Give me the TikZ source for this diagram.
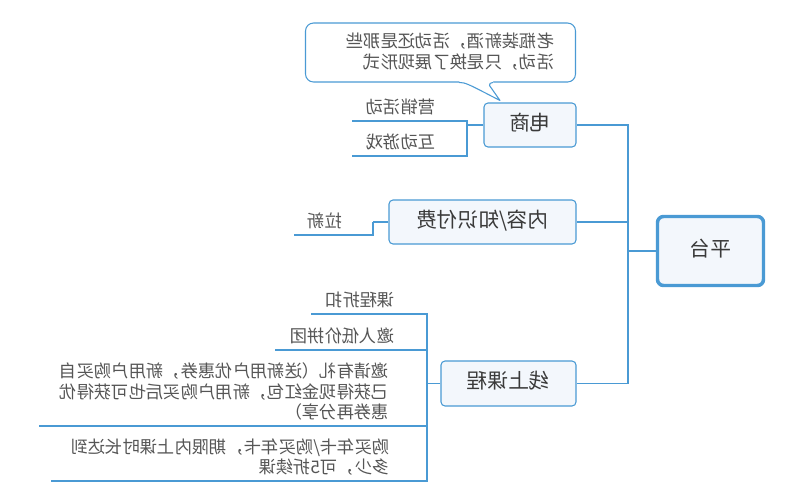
\documentclass[tikz,border=0pt]{standalone}
\usepackage{fontspec}
\usepackage{graphicx}
\setmainfont{Noto Sans CJK SC}
\definecolor{lineblue}{HTML}{4A9AD4}
\definecolor{boxfill}{HTML}{F3F7FC}
\definecolor{txtdark}{HTML}{3A3A3A}
\definecolor{txtleaf}{HTML}{555555}
\newcommand\mr[1]{\reflectbox{\begin{tabular}{@{}l@{}}#1\end{tabular}}}
\begin{document}
\begin{tikzpicture}[x=0.75pt,y=-0.75pt,
  conn/.style={draw=lineblue,line width=0.8pt},
  topic/.style={rectangle,rounded corners=3pt,draw=lineblue,line width=0.8pt,fill=boxfill,text=txtdark,font=\fontsize{15.5}{18}\selectfont,inner sep=0pt},
  roottopic/.style={topic,line width=2.6pt,rounded corners=4.5pt},
  leaf/.style={inner xsep=0pt,inner ysep=0.75pt,text=txtleaf,font=\fontsize{13}{14.6}\selectfont,anchor=south east},
  notetext/.style={inner sep=0pt,text=txtleaf,font=\fontsize{13}{14.3}\selectfont}]
\useasboundingbox (0,0) rectangle (800,501);

% topics
\node[roottopic,minimum width=79.5pt,minimum height=51.75pt] (root) at (710.5,251) {\mr{平台}};
\node[topic,minimum width=69pt,minimum height=33pt] (ds) at (530,125) {\mr{电商}};
\node[topic,minimum width=140.25pt,minimum height=33pt] (nr) at (482.5,222) {\mr{内容/知识付费}};
\node[topic,minimum width=101.25pt,minimum height=33.75pt] (xs) at (508.5,383.5) {\mr{线上课程}};

% main connectors
\coordinate (j0) at (628,251);
\draw[conn] (root.west) -- (j0);
\draw[conn] (j0) |- (ds.east);
\draw[conn] (j0) |- (nr.east);
\draw[conn] (j0) |- (xs.east);

% callout
\draw[conn,fill=white,rounded corners=6pt] (305.5,23) rectangle (575.5,82);
\fill[white] (460,80.9) -- (493,80.9) -- (493,82) -- (500,100.5) -- (459,82) -- cycle;
\draw[conn,line join=round] (459,82.4) .. controls (466,82.6) and (468,84) .. (500,100.5)
  -- (489.5,85.5) .. controls (489,84) and (490.5,82.4) .. (493,82.4);
\node[notetext] (note) at (450,53.5) {\mr{老瓶装新酒，活动还是那些\\活动，只是换了展现形式}};

% leaves of 电商
\coordinate (j1) at (467,125);
\node[leaf,minimum width=72pt] (a1) at (449,121) {\mr{营销活动}};
\node[leaf,minimum width=72pt] (a2) at (449,156) {\mr{互动游戏}};
\draw[conn] (ds.west) -- (j1);
\draw[conn] (j1) |- (a1.south east);
\draw[conn] (j1) |- (a2.south east);
\draw[conn] (a1.south west) -- (a1.south east);
\draw[conn] (a2.south west) -- (a2.south east);

% leaf of 内容/知识付费
\coordinate (j2) at (373,222);
\node[leaf,minimum width=45pt] (b1) at (355,235) {\mr{拉新}};
\draw[conn] (nr.west) -- (j2);
\draw[conn] (j2) |- (b1.south east);
\draw[conn] (b1.south west) -- (b1.south east);

% leaves of 线上课程
\coordinate (j3) at (427,383.5);
\node[leaf,minimum width=72.75pt] (c1) at (409,314) {\mr{课程折扣}};
\node[leaf,minimum width=99.75pt] (c2) at (409,350) {\mr{邀人低价拼团}};
\node[leaf,minimum width=276.75pt] (c3) at (409,426) {\mr{邀请有礼（送新用户优惠券，新用户购买自\\己获得现金红包，新用户购买后也可获得优\\惠券再分享）}};
\node[leaf,minimum width=267.75pt] (c4) at (409,481) {\mr{购买年卡/购买年卡，期限内上课时长达到\\多少，可5折续课}};
\draw[conn] (xs.west) -- (j3);
\foreach \n in {c1,c2,c3,c4}{
  \draw[conn] (j3) |- (\n.south east);
  \draw[conn] (\n.south west) -- (\n.south east);
}
\end{tikzpicture}
\end{document}
